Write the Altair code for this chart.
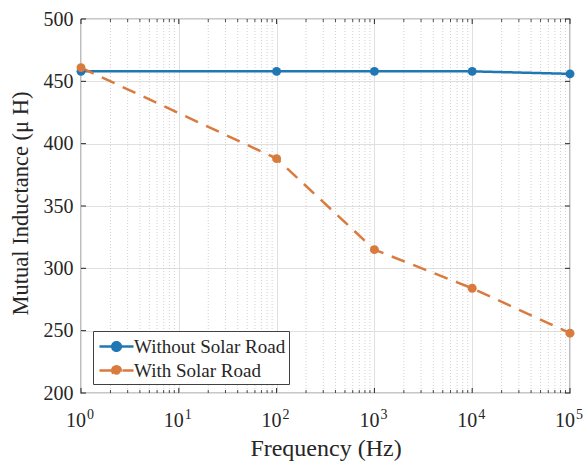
import altair as alt
import pandas as pd

# ---- data ----
freq = [1, 100, 1000, 10000, 100000]
without_road = [458, 458, 458, 458, 456]
with_road = [461, 388, 315, 284, 248]
series_names = ["Without Solar Road", "With Solar Road"]
series_colors = ["#1f77b4", "#d97b3f"]
x_major = [1, 10, 100, 1000, 10000, 100000]
x_base = ["10", "10", "10", "10", "10", "10"]
x_exponents = ["0", "1", "2", "3", "4", "5"]
x_minor = [m * 10 ** k for k in range(5) for m in range(2, 10)]
y_major = [200, 250, 300, 350, 400, 450, 500]

W, H = 489, 374
FONT = "'Times New Roman', 'Liberation Serif', Times, serif"
TXT = "#262626"

df = pd.DataFrame({
    "freq": freq + freq,
    "L": without_road + with_road,
    "series": [series_names[0]] * len(freq) + [series_names[1]] * len(freq),
})
maj = pd.DataFrame({"x": x_major, "b": x_base, "e": x_exponents})
mnr = pd.DataFrame({"x": x_minor})
ymj = pd.DataFrame({"y": y_major})

xs = alt.Scale(type="log", domain=[1, 100000], nice=False)
ys = alt.Scale(domain=[200, 500], nice=False, zero=False)

xaxis = alt.Axis(
    values=x_major, grid=True, gridColor="#e0e0e0", gridWidth=1,
    ticks=False, domain=False, labels=False,
    title="Frequency (Hz)", titleFont=FONT, titleFontSize=24,
    titleFontWeight="normal", titleColor=TXT, titleBaseline="alphabetic", titleY=62,
)
yaxis = alt.Axis(
    values=y_major, grid=True, gridColor="#e0e0e0", gridWidth=1,
    ticks=False, domain=False, labelFont=FONT, labelFontSize=20, labelColor=TXT,
    labelPadding=8,
    title="Mutual Inductance (μ H)", titleFont=FONT, titleFontSize=22.5,
    titleFontWeight="normal", titleColor=TXT, titleBaseline="middle",
    titleX=-61, titleY=184,
)

minor_grid = alt.Chart(mnr).mark_rule(color="#c4c4c4", strokeWidth=0.8, strokeDash=[1, 2]).encode(
    x=alt.X("x:Q", scale=xs, axis=xaxis), y=alt.value(0), y2=alt.value(H)
)

bases = alt.Chart(maj).mark_text(
    align="right", baseline="alphabetic", font=FONT, fontSize=20, color=TXT, dx=5
).encode(x=alt.X("x:Q", scale=xs), y=alt.value(H + 34), text="b:N")
exps = alt.Chart(maj).mark_text(
    align="left", baseline="alphabetic", font=FONT, fontSize=14, color=TXT, dx=6
).encode(x=alt.X("x:Q", scale=xs), y=alt.value(H + 26), text="e:N")

tick_c = TXT
tb_major = alt.Chart(maj).mark_rule(color=tick_c, strokeWidth=1).encode(
    x=alt.X("x:Q", scale=xs), y=alt.value(H), y2=alt.value(H - 5))
tt_major = alt.Chart(maj).mark_rule(color=tick_c, strokeWidth=1).encode(
    x=alt.X("x:Q", scale=xs), y=alt.value(0), y2=alt.value(5))
tb_minor = alt.Chart(mnr).mark_rule(color=tick_c, strokeWidth=0.8).encode(
    x=alt.X("x:Q", scale=xs), y=alt.value(H), y2=alt.value(H - 3))
tt_minor = alt.Chart(mnr).mark_rule(color=tick_c, strokeWidth=0.8).encode(
    x=alt.X("x:Q", scale=xs), y=alt.value(0), y2=alt.value(3))
tl = alt.Chart(ymj).mark_rule(color=tick_c, strokeWidth=1).encode(
    y=alt.Y("y:Q", scale=ys, axis=yaxis), x=alt.value(0), x2=alt.value(5))
tr = alt.Chart(ymj).mark_rule(color=tick_c, strokeWidth=1).encode(
    y=alt.Y("y:Q", scale=ys), x=alt.value(W), x2=alt.value(W - 5))

color = alt.Color(
    "series:N",
    scale=alt.Scale(domain=series_names, range=series_colors),
    legend=alt.Legend(
        title=None, orient="none", legendX=12, legendY=312,
        fillColor="white", strokeColor="#404040", padding=3,
        labelFont=FONT, labelFontSize=19, labelColor=TXT,
        symbolType="M-1.55,0L1.55,0M-0.39,0A0.39,0.39,0,1,1,0.39,0A0.39,0.39,0,1,1,-0.39,0Z",
        symbolSize=484, symbolStrokeWidth=2.5, symbolOffset=8,
        rowPadding=1, labelOffset=5,
    ),
)
dash = alt.StrokeDash(
    "series:N",
    scale=alt.Scale(domain=series_names, range=[[1, 0], [14, 9]]),
    legend=None,
)

lines = alt.Chart(df).mark_line(strokeWidth=2.5).encode(
    x=alt.X("freq:Q", scale=xs), y=alt.Y("L:Q", scale=ys), color=color, strokeDash=dash,
)
points = alt.Chart(df).mark_circle(size=80, opacity=1).encode(
    x=alt.X("freq:Q", scale=xs), y=alt.Y("L:Q", scale=ys),
    color=alt.Color("series:N", scale=alt.Scale(domain=series_names, range=series_colors), legend=None),
)

chart = alt.layer(
    minor_grid, tb_major, tt_major, tb_minor, tt_minor, tl, tr, bases, exps, lines, points
).properties(
    width=W, height=H, autosize=alt.AutoSizeParams(type="none"),
    padding={"left": 81, "top": 19, "right": 14, "bottom": 69},
    background="white",
).configure_view(stroke=TXT, strokeWidth=1.2)

chart.save("out.html", embed_options={"renderer": "svg", "actions": False})
